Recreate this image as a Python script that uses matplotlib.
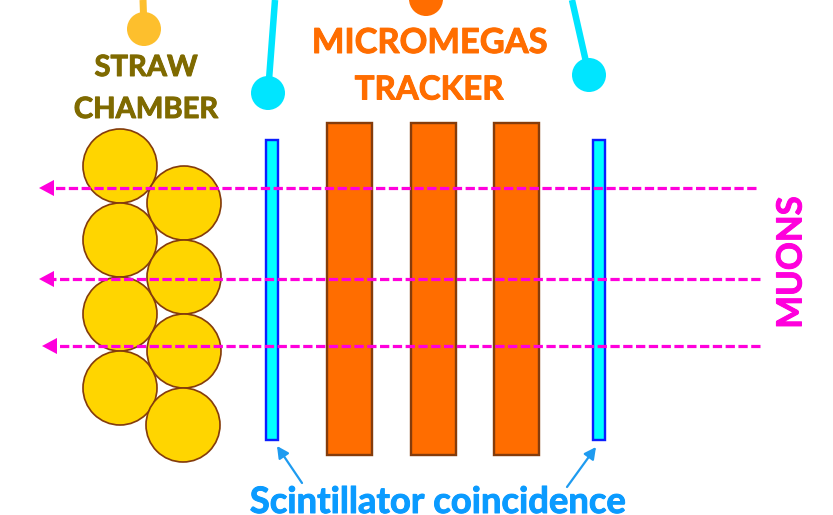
import matplotlib
matplotlib.use("Agg")
import matplotlib.pyplot as plt
from matplotlib.patches import Circle, Rectangle
import matplotlib.patheffects as pe

plt.rcParams['font.family'] = ['Lato', 'DejaVu Sans']

W, H = 833, 515

straw_x = [120, 120, 120, 120, 184, 184, 184, 183]
straw_y = [166, 240, 314, 388, 203, 277, 351, 425]
straw_r = 37

mm_x = [327, 411, 494]
mm_w = 45
mm_top, mm_bottom = 123, 455

sc_x = [266, 593]
sc_w = 12
sc_top, sc_bottom = 140, 440

muon_y0 = [188, 279, 346]
muon_x_start = [756, 760, 760]
muon_x_end = [39, 39, 42]

leads = [((275, 0), (268, 93), '#00E5FF'), ((572, 0), (589, 75), '#00E5FF')]
lead_r = 17
straw_lead = ((143, 0), (144, 29), '#FDBF2D')
mm_dot = (426, -1)

coinc_arrows = [((302, 483), (277, 446)), ((567, 487), (596, 447))]

MAGENTA = '#FF00DC'

fig = plt.figure(figsize=(W / 100, H / 100), dpi=100)
ax = fig.add_axes([0, 0, 1, 1])
ax.set_xlim(0, W)
ax.set_ylim(H, 0)
ax.axis('off')

pt = 72 / 100

for x, y in zip(straw_x, straw_y):
    ax.add_patch(Circle((x, y), straw_r, fc='#FFD500', ec='#843C0C', lw=1.7 * pt, zorder=2))

for x in mm_x:
    ax.add_patch(Rectangle((x, mm_top), mm_w, mm_bottom - mm_top, fc='#FF6D00', ec='#843C0C', lw=2.4 * pt, zorder=2))

for x in sc_x:
    ax.add_patch(Rectangle((x, sc_top), sc_w, sc_bottom - sc_top, fc='#00FFFF', ec='#0A1EFF', lw=2.4 * pt, zorder=2))

for y, xs, xe in zip(muon_y0, muon_x_start, muon_x_end):
    ax.plot([xs, xe + 14], [y, y], color=MAGENTA, lw=3.2 * pt, dashes=(2.9, 1.1), zorder=3)
    ax.annotate('', xy=(xe, y), xytext=(xe + 16, y),
                arrowprops=dict(arrowstyle='-|>,head_length=1.08,head_width=0.58', color=MAGENTA,
                                lw=0, shrinkA=0, shrinkB=0), zorder=4)

for (p0, p1, c) in leads:
    ax.plot([p0[0], p1[0]], [p0[1], p1[1]], color=c, lw=6.5 * pt, solid_capstyle='butt', zorder=3)
    ax.add_patch(Circle(p1, lead_r, fc=c, ec='none', zorder=3))

p0, p1, c = straw_lead
ax.plot([p0[0], p1[0]], [p0[1], p1[1]], color=c, lw=7 * pt, solid_capstyle='butt', zorder=3)
ax.add_patch(Circle(p1, lead_r, fc=c, ec='none', zorder=3))
ax.add_patch(Circle(mm_dot, lead_r, fc='#FF6D00', ec='none', zorder=3))

for start, end in coinc_arrows:
    ax.annotate('', xy=end, xytext=start,
                arrowprops=dict(arrowstyle='-|>,head_length=0.7,head_width=0.36', color='#1E9BF0',
                                lw=1.6, shrinkA=0, shrinkB=0), zorder=3)


def label(x, y, s, color, size, **kw):
    kw.setdefault('va', 'center')
    ax.text(x, y, s, color=color, fontsize=size, fontweight='bold', ha='center',
            path_effects=[pe.withStroke(linewidth=0.7, foreground=color)], **kw)


label(146, 68, 'STRAW', '#7F6A00', 21)
label(146, 110, 'CHAMBER', '#7F6A00', 21)
label(430, 43, 'MICROMEGAS', '#FF6D00', 24.8)
label(429, 90, 'TRACKER', '#FF6D00', 23.8)
label(438, 513, 'Scintillator coincidence', '#0A9BFF', 26.2, va='baseline')
label(791.5, 262.5, 'MUONS', MAGENTA, 25, rotation=90)

fig.savefig('out.png', dpi=100)
